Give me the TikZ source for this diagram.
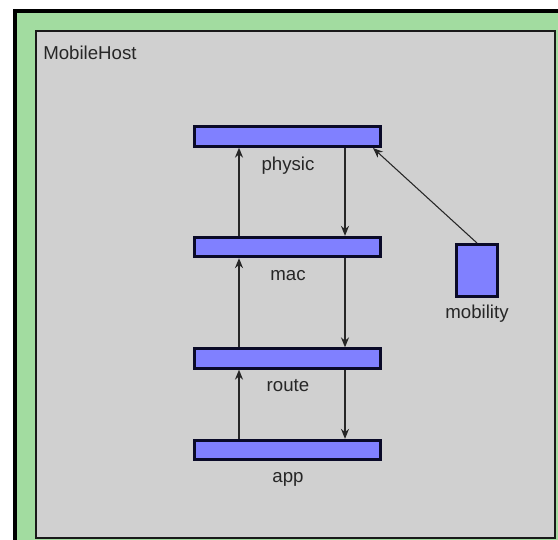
\documentclass[tikz,border=0pt]{standalone}
\usepackage{fontspec}
\setmainfont{Liberation Sans}
\usetikzlibrary{arrows.meta}
\definecolor{hostgreen}{RGB}{162,220,160}
\definecolor{hostgray}{RGB}{208,208,208}
\definecolor{modblue}{RGB}{128,128,255}
\definecolor{modedge}{RGB}{10,10,40}
\tikzset{
  bar/.style={draw=modedge, fill=modblue, line width=2.2pt, inner sep=0pt,
              minimum width=140pt, minimum height=14.5pt},
  mobbox/.style={draw=modedge, fill=modblue, line width=2.2pt, inner sep=0pt,
              minimum width=31pt, minimum height=39pt},
  lbl/.style={anchor=base, inner sep=0pt, font=\fontsize{14}{16}\selectfont, text=black!85},
  conn/.style={draw=black!85, line width=1.1pt, -{Stealth[length=7.5pt,width=6pt]}},
  thinconn/.style={draw=black!85, line width=0.8pt, -{Stealth[length=7.5pt,width=6pt]}}
}
\begin{document}
\begin{tikzpicture}[x=0.75pt,y=-0.75pt]
\useasboundingbox (0,0) rectangle (558,540);
\begin{scope}
\clip (0,0) rectangle (558,540);
\fill[white] (0,0) rectangle (558,540);
% outer frame
\filldraw[draw=black, fill=hostgreen, line width=3pt] (15,11) rectangle (590,580);
% inner area
\filldraw[draw=black!90, fill=hostgray, line width=2.2pt] (36,31) rectangle (555,538);
\end{scope}
\node[lbl, anchor=base west] (host) at (43,59) {MobileHost};

% modules
\node[bar] (physic) at (287.5,136.5) {};
\node[bar] (mac)    at (287.5,247) {};
\node[bar] (route)  at (287.5,358.5) {};
\node[bar] (app)    at (287.5,450) {};
\node[mobbox] (mobility) at (477,270.5) {};

% labels
\node[lbl] (lphysic) at (288,170) {physic};
\node[lbl] (lmac)    at (288,280) {mac};
\node[lbl] (lroute)  at (288,391) {route};
\node[lbl] (lapp)    at (288,482) {app};
\node[lbl] (lmob)    at (477,318) {mobility};

% gate columns
\coordinate (L) at (239,0);
\coordinate (R) at (345,0);
\coordinate (ptip) at (373,148);

% upward connections
\draw[conn] (app.north -| L) -- (route.south -| L);
\draw[conn] (route.north -| L) -- (mac.south -| L);
\draw[conn] (mac.north -| L) -- (physic.south -| L);
% downward connections
\draw[conn] (physic.south -| R) -- (mac.north -| R);
\draw[conn] (mac.south -| R) -- (route.north -| R);
\draw[conn] (route.south -| R) -- (app.north -| R);
% mobility to physic
\draw[thinconn] (mobility.north) -- (ptip);
\end{tikzpicture}
\end{document}
